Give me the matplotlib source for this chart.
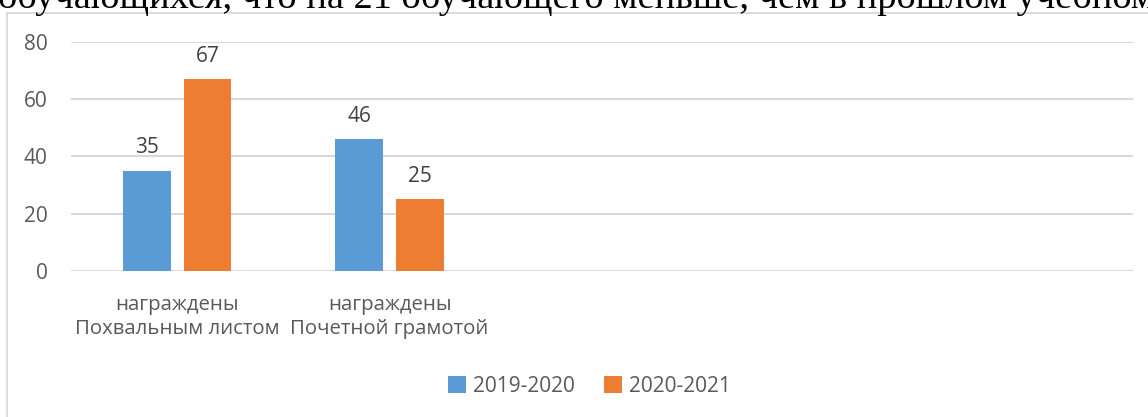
import numpy as np
import matplotlib.pyplot as plt
from matplotlib.patches import Rectangle

categories = ["награждены\nПохвальным листом", "награждены\nПочетной грамотой", "", "", ""]
series_names = ["2019-2020", "2020-2021"]
values_2019 = [35, 46]
values_2020 = [67, 25]
y_ticks = [0, 20, 40, 60, 80]

top_text = "обучающихся, что на 21 обучающего меньше, чем в прошлом учебном"

blue = "#5B9BD5"
orange = "#ED7D31"
grid_color = "#D9D9D9"
label_color = "#595959"

plt.rcParams['font.family'] = ['Open Sans', 'DejaVu Sans']

fig = plt.figure(figsize=(11.48, 4.17), dpi=100)

# text of the document cut off above the chart
fig.text(-0.002, 1 - 8 / 417, top_text, family='Liberation Serif', fontsize=27.6,
         color='black', ha='left', va='baseline')

# chart frame
fig.patches.append(Rectangle((7 / 1148, -0.1), 1.2, (417 - 13) / 417 + 0.1,
                             transform=fig.transFigure, fill=False,
                             edgecolor=grid_color, linewidth=1.3))

ax = fig.add_axes([71 / 1148, 1 - 271 / 417, (1133 - 71) / 1148, (271 - 42) / 417])

x = np.arange(len(values_2019))
w = 0.225
off = 0.143
b1 = ax.bar(x - off, values_2019, w, color=blue, label=series_names[0])
b2 = ax.bar(x + off, values_2020, w, color=orange, label=series_names[1])
ax.bar_label(b1, padding=9, fontsize=15, color="#404040")
ax.bar_label(b2, padding=9, fontsize=15, color="#404040")

ax.set_xlim(-0.5, len(categories) - 0.5)
ax.set_ylim(0, 80)
ax.set_yticks(y_ticks)
ax.set_xticks(np.arange(len(categories)))
ax.set_xticklabels(categories, multialignment='center', linespacing=1.3)
ax.tick_params(axis='y', length=0, pad=17, labelsize=15, labelcolor=label_color)
ax.tick_params(axis='x', length=0, pad=17, labelsize=14.7, labelcolor=label_color)

ax.grid(axis='y', color=grid_color, linewidth=1.5)
ax.set_axisbelow(True)
for s in ax.spines.values():
    s.set_visible(False)

ax.legend(loc='center', bbox_to_anchor=(589 / 1148, 1 - 386 / 417),
          bbox_transform=fig.transFigure, ncol=2, frameon=False, fontsize=15,
          labelcolor=label_color, handlelength=0.9, handleheight=0.9,
          handletextpad=0.3, columnspacing=1.4)

fig.savefig("out.png", dpi=100)
